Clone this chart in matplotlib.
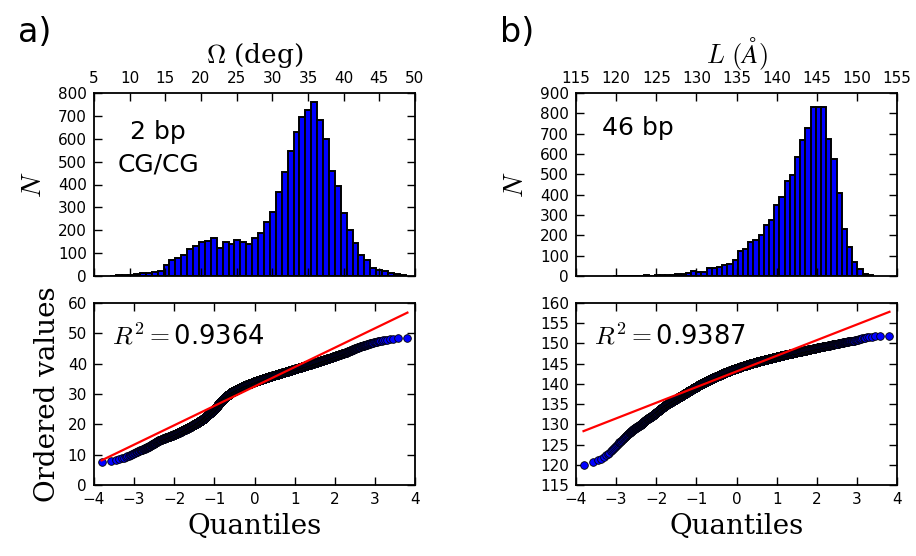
import numpy as np
import matplotlib.pyplot as plt
from statistics import NormalDist

plt.rcParams['font.family'] = ['DejaVu Sans']
plt.rcParams['axes.unicode_minus'] = True

# 直方图数据 (50 bins)
omega_range = (7.3, 48.7)
omega_counts = [2, 3, 4, 5, 8, 12, 15, 17, 22, 46,
                72, 80, 90, 120, 131, 148, 154, 164, 122, 150,
                140, 157, 149, 140, 166, 187, 236, 280, 368, 453,
                546, 628, 693, 727, 759, 680, 600, 457, 394, 277,
                201, 146, 90, 70, 34, 26, 22, 12, 10, 4]

length_range = (119.6, 152.0)
length_counts = [1, 1, 2, 1, 2, 2, 3, 2, 3, 4,
                 5, 6, 8, 10, 14, 23, 18, 22, 40, 40,
                 42, 52, 60, 80, 122, 132, 165, 178, 200, 249,
                 274, 348, 389, 466, 495, 584, 670, 728, 830, 830,
                 830, 673, 576, 408, 231, 145, 68, 32, 9, 7]

r2_values = [0.9364, 0.9387]
panel_tags = ['a)', 'b)']
box_text = ['2 bp\nCG/CG', '46 bp']


def expand(counts, lo, hi):
    # 每个 bin 内均匀放置样本
    edges = np.linspace(lo, hi, len(counts) + 1)
    vals = [a + (b - a) * (np.arange(c) + 0.5) / c
            for c, a, b in zip(counts, edges[:-1], edges[1:])]
    return np.concatenate(vals), edges


def probplot(vals):
    y = np.sort(vals)
    n = len(y)
    m = (np.arange(1, n + 1) - 0.3175) / (n + 0.365)
    m[-1] = 0.5 ** (1.0 / n)
    m[0] = 1 - m[-1]
    nd = NormalDist()
    x = np.array([nd.inv_cdf(p) for p in m])
    return x, y


fig = plt.figure(figsize=(9.16, 5.56), dpi=100)

panels = [
    dict(counts=omega_counts, rng=omega_range, left=94,
         xlabel=r'$\Omega$ (deg)', xlim=(5, 50), xticks=np.arange(5, 51, 5),
         ylim=(0, 800), yticks=np.arange(0, 801, 100),
         qylim=(0, 60), qyticks=np.arange(0, 61, 10),
         txt_xy=(0.2, 0.7), txt_ha='center'),
    dict(counts=length_counts, rng=length_range, left=576,
         xlabel=r'$L\ (\AA)$', xlim=(115, 155), xticks=np.arange(115, 156, 5),
         ylim=(0, 900), yticks=np.arange(0, 901, 100),
         qylim=(115, 160), qyticks=np.arange(115, 161, 5),
         txt_xy=(0.08, 0.81), txt_ha='left'),
]

W, H = 916, 556
for k, p in enumerate(panels):
    sample, edges = expand(p['counts'], *p['rng'])
    l = p['left'] / W
    w = 321 / W
    ax1 = fig.add_axes([l, 1 - 276 / H, w, 183 / H])
    ax2 = fig.add_axes([l, 1 - 485 / H, w, 182 / H])

    # 直方图
    ax1.hist(sample, bins=edges, color='b', edgecolor='k', linewidth=1.4)
    ax1.set_xlim(p['xlim'])
    ax1.set_xticks(p['xticks'])
    ax1.set_ylim(p['ylim'])
    ax1.set_yticks(p['yticks'])
    ax1.xaxis.set_label_position('top')
    ax1.tick_params(labeltop=True, labelbottom=False)
    ax1.set_xlabel(p['xlabel'], fontsize=19, family='DejaVu Serif',
                   math_fontfamily='cm', labelpad=6)
    ax1.set_ylabel(r'$N$', fontsize=20, math_fontfamily='cm', labelpad=8)
    ax1.text(p['txt_xy'][0], p['txt_xy'][1], box_text[k], transform=ax1.transAxes,
             fontsize=18, ha=p['txt_ha'], va='center', multialignment='center',
             linespacing=1.45)

    # Q-Q 图
    osm, osr = probplot(sample)
    slope, intercept = np.polyfit(osm, osr, 1)
    ax2.plot(osm, osr, 'o', mfc='b', mec='k', ms=5.5, mew=0.6)
    ax2.plot(osm, slope * osm + intercept, 'r-', lw=1.6)
    ax2.set_xlim(-4, 4)
    ax2.set_xticks(np.arange(-4, 5, 1))
    ax2.set_ylim(p['qylim'])
    ax2.set_yticks(p['qyticks'])
    ax2.set_xlabel('Quantiles', fontsize=20, family='DejaVu Serif', labelpad=4)
    ax2.text(0.056, 0.81, r'$R^2=$' + f'{r2_values[k]:.4f}', transform=ax2.transAxes,
             fontsize=18.5, va='center', math_fontfamily='cm')
    if k == 0:
        ax2.set_ylabel('Ordered values', fontsize=20, family='DejaVu Serif', labelpad=5)

    for ax in (ax1, ax2):
        ax.tick_params(direction='in', top=True, right=True, length=6, width=1,
                       labelsize=11, pad=5)
        for s in ax.spines.values():
            s.set_linewidth(1.3)

    fig.text((p['left'] - 76) / W, 1 - 33 / H, panel_tags[k], fontsize=24,
             va='center', ha='left')

fig.savefig('out.png', dpi=100)
